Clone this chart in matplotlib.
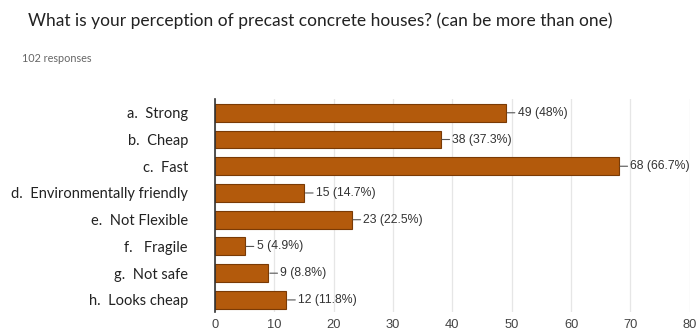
import matplotlib
matplotlib.use("Agg")
import matplotlib.pyplot as plt

categories = [
    "a.  Strong",
    "b.  Cheap",
    "c.  Fast",
    "d.  Environmentally friendly",
    "e.  Not Flexible",
    "f.   Fragile",
    "g.  Not safe",
    "h.  Looks cheap",
]
counts = [49, 38, 68, 15, 23, 5, 9, 12]
percents = ["48%", "37.3%", "66.7%", "14.7%", "22.5%", "4.9%", "8.8%", "11.8%"]
xticks = [0, 10, 20, 30, 40, 50, 60, 70, 80]

title = "What is your perception of precast concrete houses? (can be more than one)"
subtitle = "102 responses"

bar_color = "#b35a0c"
edge_color = "#7a3a05"

fig = plt.figure(figsize=(6.96, 3.34), dpi=100)
fig.patch.set_facecolor("white")
ax = fig.add_axes([0.309, 0.066, 0.682, 0.638])

y = list(range(len(categories)))
ax.barh(y, counts, height=0.67, color=bar_color, edgecolor=edge_color,
        linewidth=0.8, zorder=3)

for yi, c, p in zip(y, counts, percents):
    ax.annotate(f"{c} ({p})", xy=(c, yi), xytext=(8.5, 0),
                textcoords="offset points", va="center", ha="left",
                fontsize=8.8, family="Liberation Sans", color="#333333",
                arrowprops=dict(arrowstyle="-", color="#555555", lw=0.8,
                                shrinkA=0, shrinkB=1))

ax.set_xlim(0, 80)
ax.set_ylim(7.45, -0.52)
ax.set_xticks(xticks)
ax.set_xticklabels([str(t) for t in xticks], family="Liberation Sans",
                   fontsize=9.3, color="#444444")
ax.tick_params(axis="both", length=0)
ax.set_yticks(y)
ax.set_yticklabels(categories, family="Lato", fontsize=10.5, color="#222222")
ax.tick_params(axis="y", pad=19.5)
ax.tick_params(axis="x", pad=5)

ax.grid(axis="x", color="#e6e6e6", linewidth=0.9, zorder=0)
for s in ["top", "right", "bottom"]:
    ax.spines[s].set_visible(False)
ax.spines["left"].set_color("#333333")
ax.spines["left"].set_linewidth(1.2)
ax.spines["left"].set_zorder(4)

fig.text(28 / 696, 1 - 21 / 334, title, family="Lato", fontsize=12.5,
         color="#222222", va="center", ha="left")
fig.text(22 / 696, 1 - 58 / 334, subtitle, family="Lato", fontsize=7.8,
         color="#666666", va="center", ha="left")

fig.savefig("out.png", dpi=100, facecolor="white")
